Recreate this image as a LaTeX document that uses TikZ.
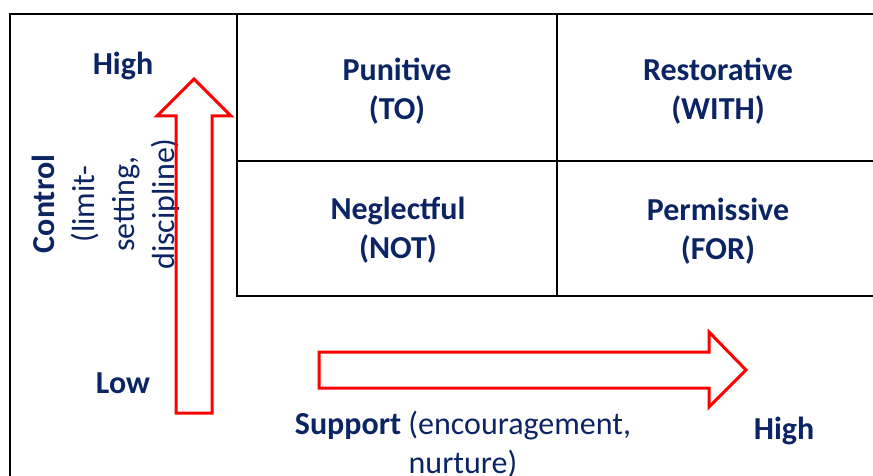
\documentclass[tikz,border=0pt]{standalone}
\usepackage{fontspec}
\setmainfont{Carlito}
\definecolor{navy}{HTML}{0B2463}
\begin{document}
\begin{tikzpicture}[x=1pt,y=-1pt,
	txt/.style={text=navy,font=\fontsize{32}{39}\selectfont,align=center,inner sep=0pt},
	btxt/.style={txt,font=\fontsize{32}{39}\selectfont\bfseries},
	gridline/.style={line width=2.5pt},
	blockarrow/.style={draw=red,line width=3pt,line join=miter}]
		\useasboundingbox (0,0) rectangle (873,476);
		% frame and quadrants
		\draw[gridline] (873,14)--(10,14)--(10,476);
		\draw[gridline] (237,14)--(237,296)--(873,296);
		\draw[gridline] (237,161)--(873,161);
		\draw[gridline] (557,14)--(557,296);
		% quadrant labels
		\node[btxt] (punitive) at (397,91) {Punitive\\(TO)};
		\node[btxt] (restorative) at (718,91) {Restorative\\(WITH)};
		\node[btxt] (neglectful) at (398,230) {Neglectful\\(NOT)};
		\node[btxt] (permissive) at (718,231) {Permissive\\(FOR)};
		% axis labels
		\node[btxt] (highy) at (123,66) {High};
		\node[btxt] (lowy) at (123,383) {Low};
		\node[btxt] (highx) at (784,431) {High};
		\node[txt,rotate=90,font=\fontsize{32}{40}\selectfont] (control) at (106,204) {\textbf{Control}\\(limit-\\setting,\\discipline)};
		\node[txt] (support) at (463,445) {\textbf{Support} (encouragement,\\nurture)};
		% block arrows
		\draw[blockarrow] (176,413)--(176,116)--(157,116)--(194,79)--(231,116)--(212,116)--(212,413)--cycle;
		\draw[blockarrow] (319,352)--(709,352)--(709,332)--(746,370)--(709,407)--(709,388)--(319,388)--cycle;
\end{tikzpicture}
\end{document}
